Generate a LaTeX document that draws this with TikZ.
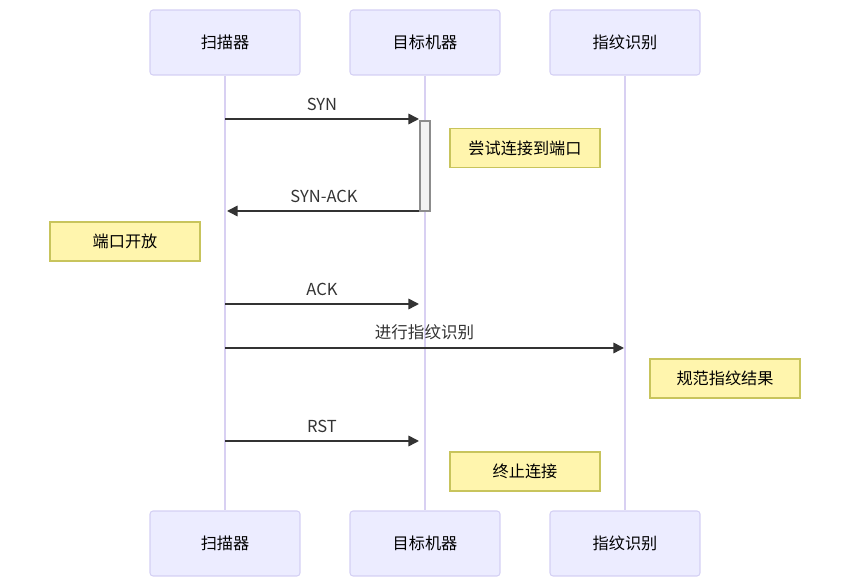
\documentclass[tikz,border=0pt]{standalone}
\usepackage{fontspec}
\setmainfont{Noto Sans CJK SC}
\usepackage{tikz}
\usetikzlibrary{positioning,arrows.meta}
\definecolor{actfill}{HTML}{ECECFF}
\definecolor{actline}{HTML}{D4D0F4}
\definecolor{lifeln}{HTML}{D8D0F2}
\definecolor{notefill}{HTML}{FFF5AD}
\definecolor{noteline}{HTML}{C8C45C}
\definecolor{msgcol}{HTML}{333333}
\tikzset{
  actor/.style={rectangle, rounded corners=1.7pt, draw=actline, fill=actfill, line width=0.6pt,
                minimum width=3cm, minimum height=1.3cm, font=\fontsize{9.2}{11}\selectfont},
  note/.style={rectangle, draw=noteline, fill=notefill, line width=0.6pt,
               minimum width=3cm, minimum height=0.78cm, font=\fontsize{9.2}{11}\selectfont},
  activ/.style={rectangle, draw=black!45, fill=black!5, line width=0.6pt,
                minimum width=0.2cm, minimum height=1.8cm, inner sep=0pt},
  lifeline/.style={draw=lifeln, line width=0.8pt},
  msg/.style={-{Triangle[length=6pt,width=6pt]}, draw=msgcol, fill=msgcol, line width=0.9pt},
  msglabel/.style={above, font=\fontsize{9.4}{11}\selectfont, text=msgcol, fill=none, yshift=1pt},
}

\begin{document}
\begin{tikzpicture}[x=0.02cm, y=-0.02cm]
  \useasboundingbox (0,0) rectangle (850,587);

  % participants
  \node[actor] (scanTop) at (225,42.5) {扫描器};
  \node[actor] (targetTop) at (425,42.5) {目标机器};
  \node[actor] (fpTop) at (625,42.5) {指纹识别};
  \node[actor] (scanBot) at (225,543.5) {扫描器};
  \node[actor] (targetBot) at (425,543.5) {目标机器};
  \node[actor] (fpBot) at (625,543.5) {指纹识别};

  \draw[lifeline] (scanTop.south) -- (scanBot.north);
  \draw[lifeline] (targetTop.south) -- (targetBot.north);
  \draw[lifeline] (fpTop.south) -- (fpBot.north);

  % message end points
  \coordinate (synA) at (225,119);
  \coordinate (synB) at (419,119);
  \coordinate (synackA) at (421,211);
  \coordinate (synackB) at (227,211);
  \coordinate (ackA) at (225,304);
  \coordinate (ackB) at (419,304);
  \coordinate (fpA) at (225,348);
  \coordinate (fpB) at (624,348);
  \coordinate (rstA) at (225,441);
  \coordinate (rstB) at (419,441);

  \draw[msg] (synA) -- (synB) node[msglabel, midway] {SYN};
  \draw[msg] (synackA) -- (synackB) node[msglabel, midway] {SYN-ACK};
  \draw[msg] (ackA) -- (ackB) node[msglabel, midway] {ACK};
  \draw[msg] (fpA) -- (fpB) node[msglabel, midway] {进行指纹识别};
  \draw[msg] (rstA) -- (rstB) node[msglabel, midway] {RST};

  \node[activ] (act) at (425,166) {};

  % notes
  \node[note] (noteTry) at (525,148) {尝试连接到端口};
  \node[note] (noteOpen) at (125,241.5) {端口开放};
  \node[note] (noteFp) at (725,378.5) {规范指纹结果};
  \node[note] (noteEnd) at (525,471.5) {终止连接};

\end{tikzpicture}
\end{document}
